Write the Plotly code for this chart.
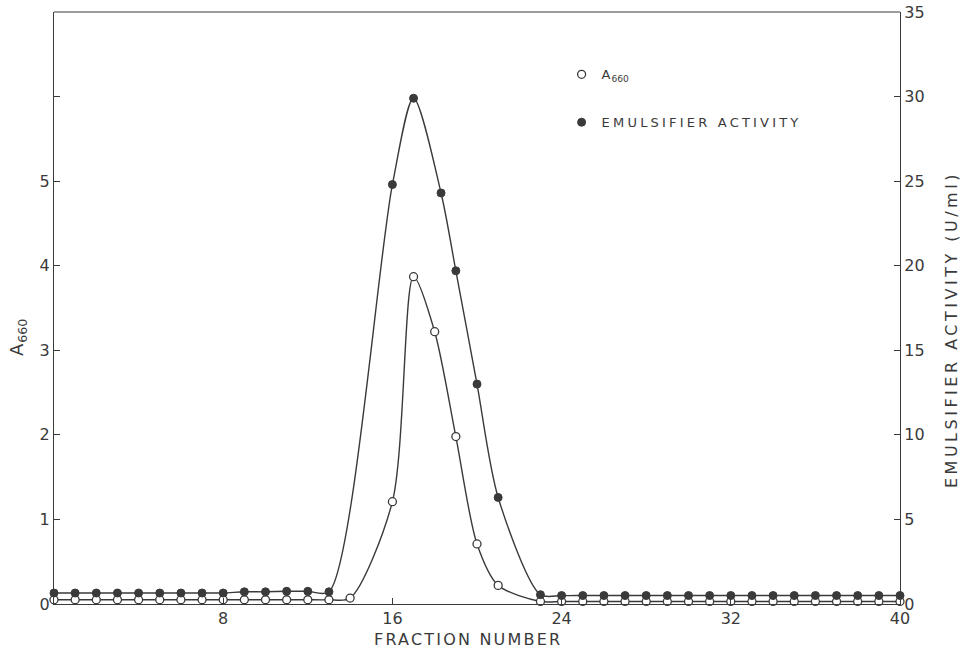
import plotly.graph_objects as go

# Fraction numbers and values
frac_a660 = [0, 1, 2, 3, 4, 5, 6, 7, 8, 9, 10, 11, 12, 13, 14,
             16, 17, 18, 19, 20, 21,
             23, 24, 25, 26, 27, 28, 29, 30, 31, 32, 33, 34, 35, 36, 37, 38, 39, 40]
a660 = [0.05, 0.05, 0.05, 0.05, 0.05, 0.05, 0.05, 0.05, 0.05, 0.05, 0.05, 0.05, 0.05, 0.05, 0.07,
        1.21, 3.87, 3.22, 1.98, 0.71, 0.22,
        0.03, 0.03, 0.03, 0.03, 0.03, 0.03, 0.03, 0.03, 0.03, 0.03, 0.03, 0.03, 0.03, 0.03, 0.03, 0.03, 0.03, 0.03]

frac_emul = [0, 1, 2, 3, 4, 5, 6, 7, 8, 9, 10, 11, 12, 13,
             16, 17, 18.3, 19, 20, 21,
             23, 24, 25, 26, 27, 28, 29, 30, 31, 32, 33, 34, 35, 36, 37, 38, 39, 40]
emul = [0.65, 0.65, 0.65, 0.65, 0.65, 0.65, 0.65, 0.65, 0.65, 0.72, 0.72, 0.75, 0.75, 0.72,
        24.8, 29.9, 24.3, 19.7, 13.0, 6.3,
        0.55, 0.5, 0.5, 0.5, 0.5, 0.5, 0.5, 0.5, 0.5, 0.5, 0.5, 0.5, 0.5, 0.5, 0.5, 0.5, 0.5, 0.5]

x_ticks = [0, 8, 16, 24, 32, 40]
x_ticktext = ["", "8", "16", "24", "32", "40"]
left_ticks = [0, 1, 2, 3, 4, 5, 6]
left_ticktext = ["0", "1", "2", "3", "4", "5", ""]
right_ticks = [0, 5, 10, 15, 20, 25, 30, 35]

INK = "#3a3a3a"
FONT = "DejaVu Sans"


def spaced(txt, px):
    return f'<span style="letter-spacing:{px}px">{txt}</span>'


fig = go.Figure()

fig.add_trace(go.Scatter(
    x=frac_emul, y=emul, yaxis="y2", mode="lines+markers",
    line=dict(color=INK, width=1.4, shape="spline", smoothing=0.8),
    marker=dict(symbol="circle", size=8, color=INK, line=dict(color=INK, width=1)),
    cliponaxis=False, showlegend=False,
))
fig.add_trace(go.Scatter(
    x=frac_a660, y=a660, mode="lines+markers",
    line=dict(color=INK, width=1.4, shape="spline", smoothing=0.8),
    marker=dict(symbol="circle", size=8, color="white", line=dict(color=INK, width=1.3)),
    cliponaxis=False, showlegend=False,
))

# legend-only entries
fig.add_trace(go.Scatter(
    x=[None], y=[None], mode="markers", name=spaced("A", 1) + "<sub>660</sub>", legendgroup="a",
    marker=dict(symbol="circle", size=8, color="white", line=dict(color=INK, width=1.3)),
))
fig.add_trace(go.Scatter(
    x=[None], y=[None], mode="markers", name=spaced("EMULSIFIER ACTIVITY", 3.2), legendgroup="b",
    marker=dict(symbol="circle", size=8, color=INK, line=dict(color=INK, width=1)),
))

axis_common = dict(
    showline=True, linecolor=INK, linewidth=1.2, mirror=False,
    ticks="inside", ticklen=6, tickcolor=INK, tickwidth=1,
    showgrid=False, zeroline=False, automargin=False,
    tickfont=dict(family=FONT, size=16, color=INK),
)

fig.update_layout(
    width=961, height=651,
    margin=dict(l=54, r=61, t=12, b=47),
    paper_bgcolor="white", plot_bgcolor="white",
    font=dict(family=FONT, color=INK),
    xaxis=dict(range=[0, 40], tickvals=x_ticks, ticktext=x_ticktext, **axis_common),
    yaxis=dict(range=[0, 7], tickvals=left_ticks, ticktext=left_ticktext, **axis_common),
    yaxis2=dict(range=[0, 35], tickvals=right_ticks, overlaying="y", side="right", **axis_common),
    legend=dict(
        x=0.6, y=0.92, xanchor="left", yanchor="top",
        font=dict(family=FONT, size=13, color=INK),
        bgcolor="rgba(0,0,0,0)", tracegroupgap=28, itemwidth=30,
    ),
    showlegend=True,
)

# axis titles placed as in the reference
fig.add_annotation(text=spaced("FRACTION NUMBER", 2.2), xref="paper", yref="paper",
                   x=(468 - 54) / 846, y=(604 - 639) / 592, showarrow=False,
                   xanchor="center", yanchor="middle",
                   font=dict(family=FONT, size=16, color=INK))
fig.add_annotation(text=spaced("A", 1) + "<sub>660</sub>", xref="paper", yref="paper",
                   x=(18 - 54) / 846, y=(604 - 338) / 592, showarrow=False, textangle=-90,
                   xanchor="center", yanchor="middle",
                   font=dict(family=FONT, size=18, color=INK))
fig.add_annotation(text=spaced("EMULSIFIER ACTIVITY (U/ml)", 3.5), xref="paper", yref="paper",
                   x=(951 - 54) / 846, y=(604 - 330) / 592, showarrow=False, textangle=-90,
                   xanchor="center", yanchor="middle",
                   font=dict(family=FONT, size=16, color=INK))

# top frame line
fig.add_shape(type="line", xref="paper", yref="paper", x0=0, x1=1, y0=1, y1=1,
              line=dict(color=INK, width=1.2))

fig.write_html("out.html")
